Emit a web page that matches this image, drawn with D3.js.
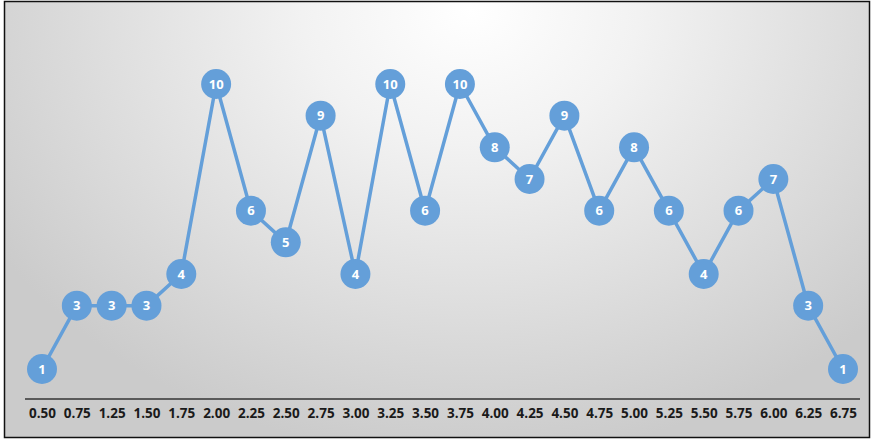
<!DOCTYPE html>
<html>
<head>
<meta charset="utf-8">
<script src="https://cdn.jsdelivr.net/npm/d3@7"></script>
<style>
  html, body { margin: 0; padding: 0; background: #fff; }
  svg { display: block; }
</style>
</head>
<body>
<div id="chart"></div>
<script>
// categories on the x axis (1.00 and 6.50 are not in the data)
const categories = ["0.50", "0.75", "1.25", "1.50", "1.75", "2.00", "2.25", "2.50", "2.75", "3.00",
  "3.25", "3.50", "3.75", "4.00", "4.25", "4.50", "4.75", "5.00", "5.25", "5.50",
  "5.75", "6.00", "6.25", "6.75"];
const values = [1, 3, 3, 3, 4, 10, 6, 5, 9, 4, 10, 6, 10, 8, 7, 9, 6, 8, 6, 4, 6, 7, 3, 1];

const width = 872, height = 440;

const svg = d3.select("#chart")
  .append("svg")
  .attr("width", width)
  .attr("height", height);

// soft radial background, light at top centre
const defs = svg.append("defs");
const grad = defs.append("radialGradient")
  .attr("id", "bg")
  .attr("gradientUnits", "userSpaceOnUse")
  .attr("cx", 470).attr("cy", 10)
  .attr("r", 560)
  .attr("gradientTransform", "translate(470,10) scale(1,0.8) translate(-470,-10)");
grad.append("stop").attr("offset", "0%").attr("stop-color", "#ffffff");
grad.append("stop").attr("offset", "30%").attr("stop-color", "#f2f2f2");
grad.append("stop").attr("offset", "100%").attr("stop-color", "#cbcbcb");

svg.append("rect")
  .attr("x", 4.5).attr("y", 1.5)
  .attr("width", 865).attr("height", 436)
  .attr("fill", "url(#bg)")
  .attr("stroke", "#111")
  .attr("stroke-width", 1.5);

const x = d3.scalePoint()
  .domain(categories)
  .range([42, 843]);

const y = d3.scaleLinear()
  .domain([1, 10])
  .range([369, 84]);

// axis baseline + labels
const axis = d3.axisBottom(x).tickSize(0).tickPadding(0);
const axisG = svg.append("g")
  .attr("transform", "translate(0,399)")
  .call(axis);
axisG.select(".domain")
  .attr("d", "M25,0H860")
  .attr("stroke", "#5a5a5a")
  .attr("stroke-width", 2);
axisG.selectAll("text")
  .attr("y", 14)
  .attr("dy", "0.35em")
  .attr("fill", "#1a1a1a")
  .style("font-family", "'Open Sans', 'Liberation Sans', sans-serif")
  .style("font-weight", "bold")
  .style("font-size", "13.5px");

const pts = categories.map((c, i) => ({ c, v: values[i] }));

const line = d3.line()
  .x(d => x(d.c))
  .y(d => y(d.v));

svg.append("path")
  .datum(pts)
  .attr("d", line)
  .attr("fill", "none")
  .attr("stroke", "#649fd9")
  .attr("stroke-width", 3.5)
  .attr("stroke-linejoin", "round");

const marks = svg.append("g")
  .selectAll("g")
  .data(pts)
  .join("g")
  .attr("transform", d => `translate(${x(d.c)},${y(d.v)})`);

marks.append("circle")
  .attr("r", 15)
  .attr("fill", "#649fd9");

marks.append("text")
  .attr("text-anchor", "middle")
  .attr("dy", "0.36em")
  .attr("fill", "#fff")
  .style("font-family", "'Open Sans', 'Liberation Sans', sans-serif")
  .style("font-weight", "bold")
  .style("font-size", "13px")
  .text(d => d.v);
</script>
</body>
</html>
